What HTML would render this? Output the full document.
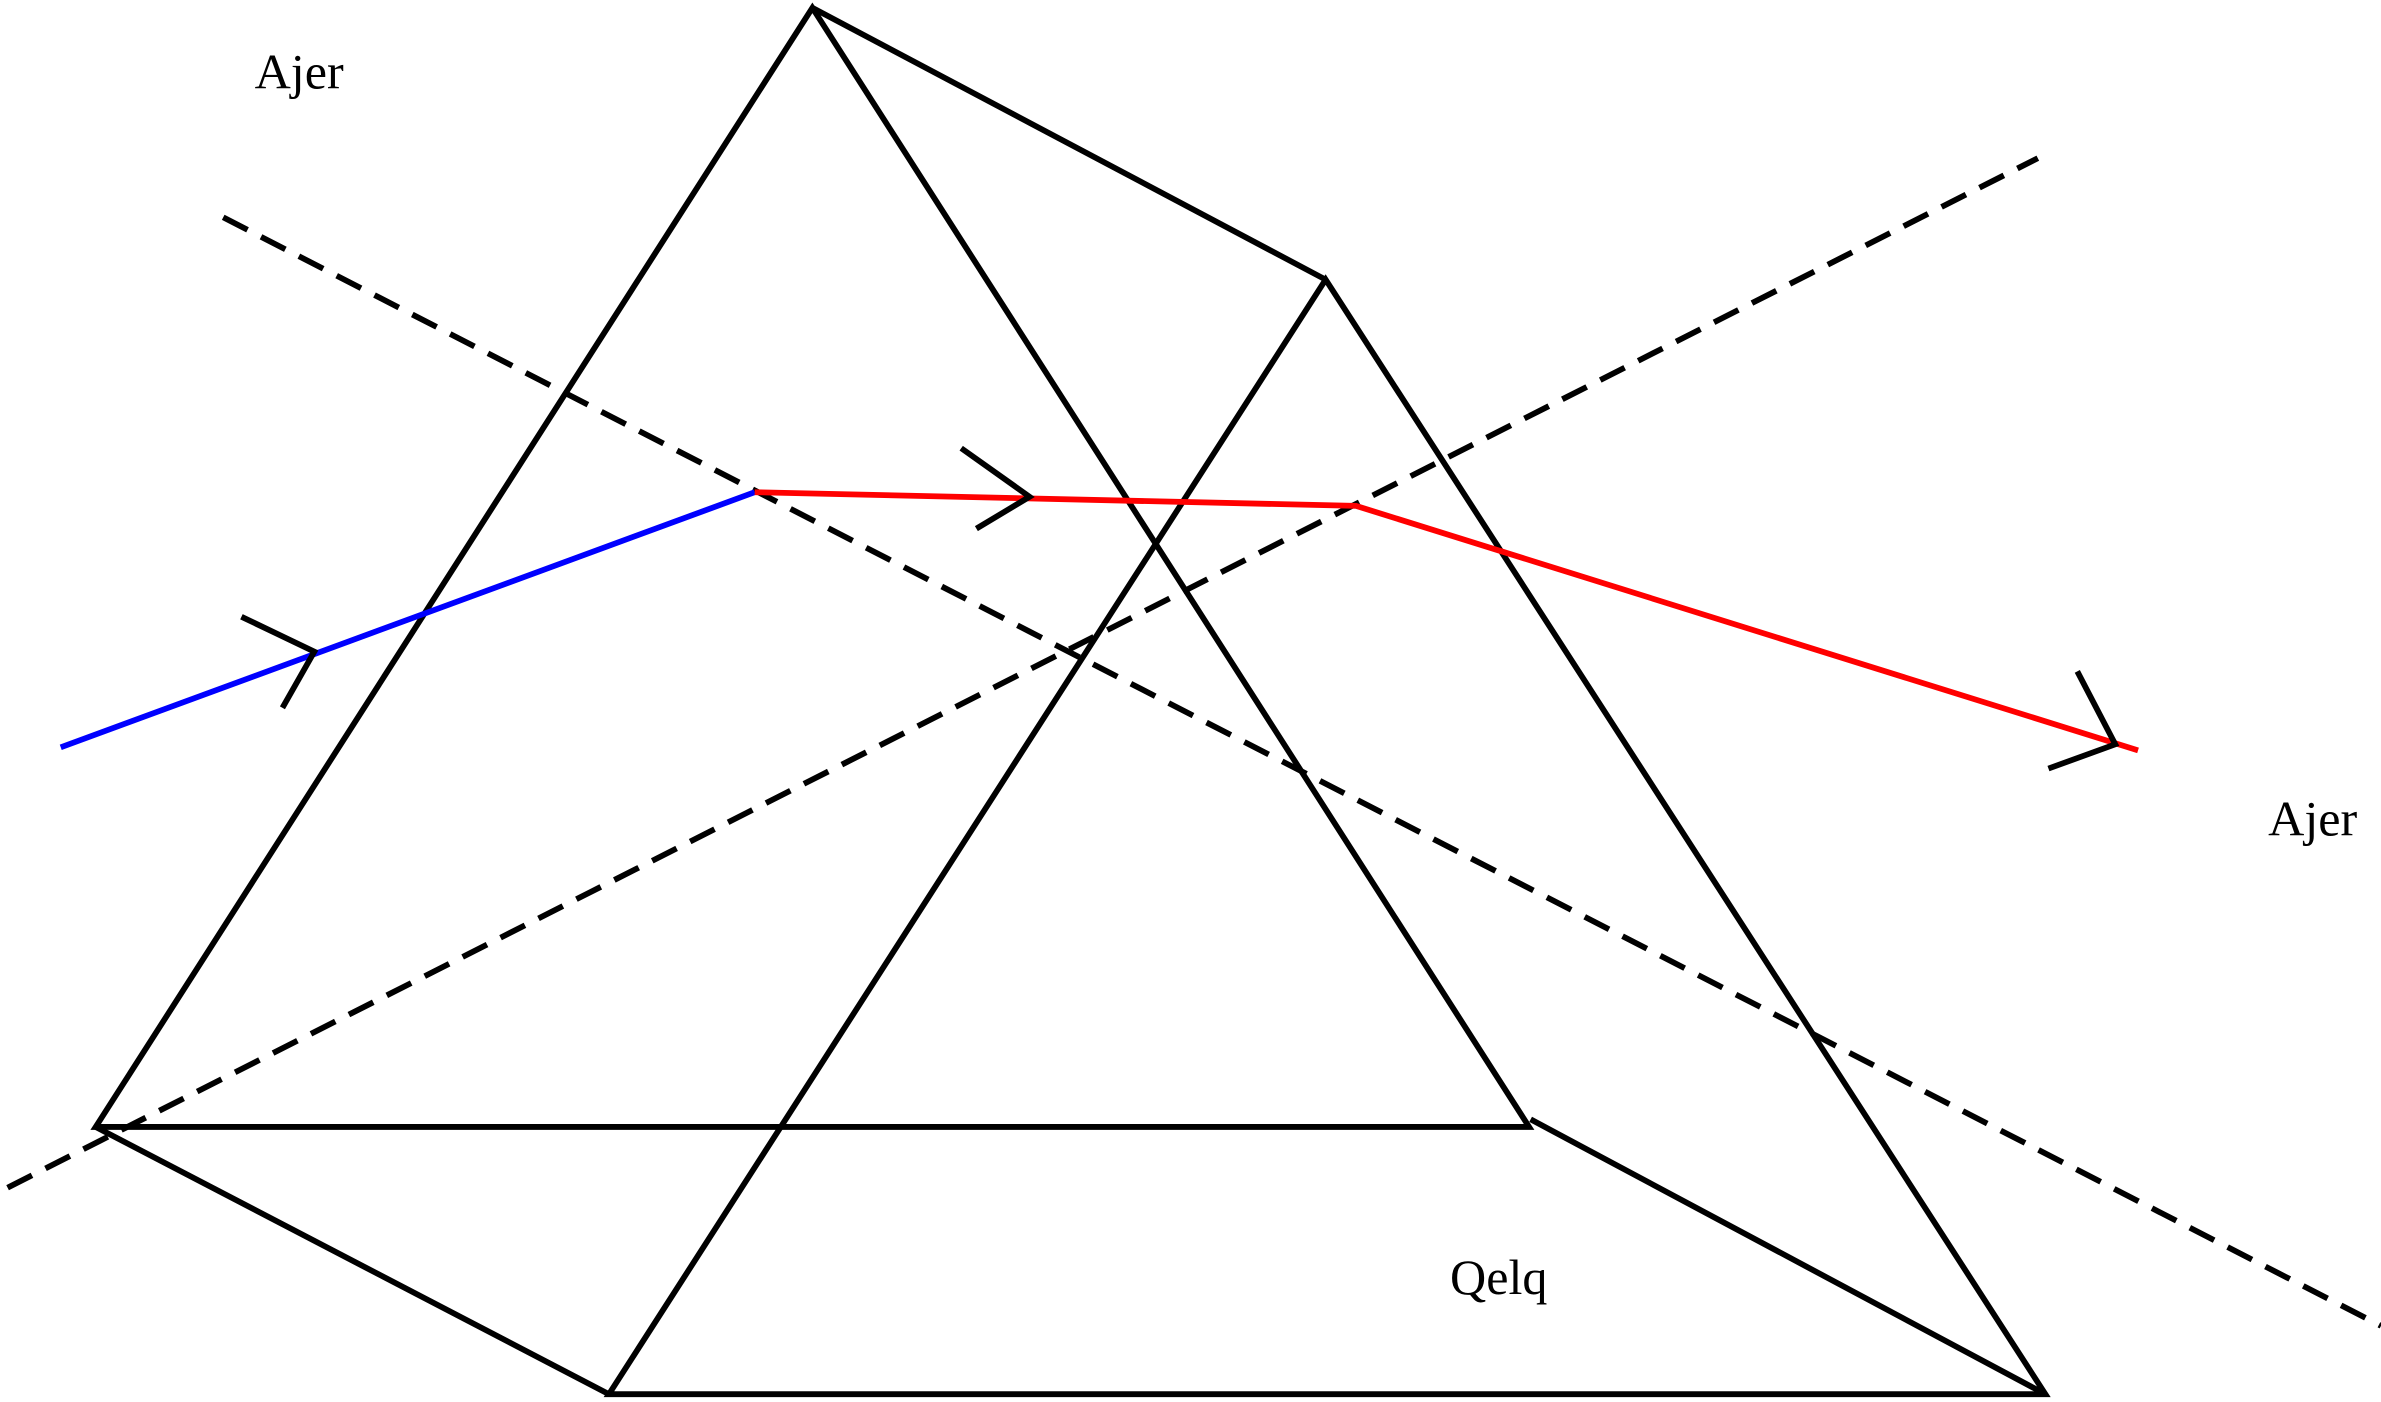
<!DOCTYPE html>
<html>
<head>
<meta charset="utf-8">
<style>
html,body{margin:0;padding:0;background:#fff;}
svg{display:block;}
text{font-family:"Liberation Serif",serif;font-size:33px;fill:#000;}
</style>
</head>
<body>
<svg width="2381" height="1402" viewBox="0 0 1568 923" xmlns="http://www.w3.org/2000/svg">
<g stroke="#000" stroke-width="3.8" fill="none" stroke-linejoin="miter">
  <polygon points="535,5 63,742 1007,742"/>
  <polygon points="873,184 401,918 1347,918"/>
  <line x1="535" y1="5" x2="873" y2="184"/>
  <line x1="63" y1="742" x2="401" y2="918"/>
  <line x1="1008" y1="737" x2="1347" y2="918"/>
</g>
<g stroke="#000" stroke-width="3.8" stroke-dasharray="18,10" fill="none">
  <line x1="147" y1="143" x2="1568" y2="873"/>
  <line x1="5" y1="782" x2="1342" y2="104"/>
</g>
<line x1="40" y1="492" x2="497" y2="324" stroke="#0000ff" stroke-width="3.8"/>
<polyline points="497,324 893,333 1408,494" stroke="#ff0000" stroke-width="3.8" fill="none"/>
<g stroke="#000" stroke-width="3.8" fill="none">
  <polyline points="159,406 207,429 186,466"/>
  <polyline points="633,295 678,327 643,348"/>
  <polyline points="1368,442 1393,490 1349,506"/>
</g>
<text x="197" y="58" text-anchor="middle">Ajer</text>
<text x="1523" y="550" text-anchor="middle">Ajer</text>
<text x="987" y="852" text-anchor="middle">Qelq</text>
</svg>
</body>
</html>
